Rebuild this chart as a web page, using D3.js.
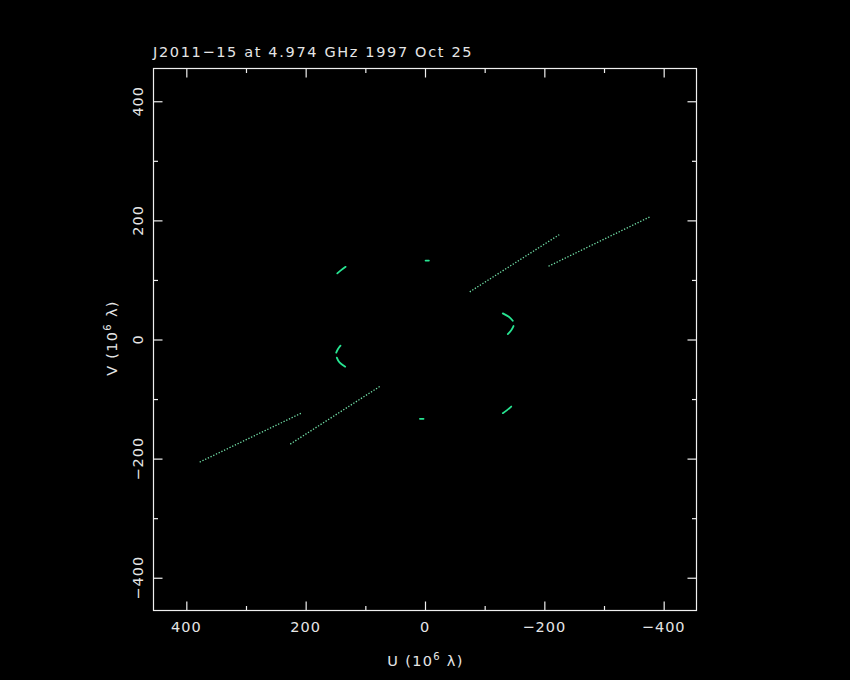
<!DOCTYPE html>
<html>
<head>
<meta charset="utf-8">
<script src="https://cdn.jsdelivr.net/npm/d3@7"></script>
<style>
  html, body { margin: 0; padding: 0; background: #000; }
  svg { display: block; }
  text { font-family: "DejaVu Sans", sans-serif; fill: #e6e6e6; }
</style>
</head>
<body>
<svg id="chart" width="850" height="680"></svg>
<script>
// ---- data (U, V in units of 10^6 lambda) ----
const titleText = "J2011\u221215 at 4.974 GHz 1997 Oct 25";
const majorTicks = [-400, -200, 0, 200, 400];
const minorTicks = [-300, -100, 100, 300];
const uDomain = [455, -455];   // U reversed
const vDomain = [-455, 455];

// long dotted uv tracks
const trackA  = [[-207, 123], [-377, 206]];
const trackA2 = [[208, -124], [378, -206]];
const trackB  = [[-75, 80], [-225, 176]];
const trackB2 = [[76, -79], [228, -177]];

// short arcs
const arcUL   = [[147, 111], [141.6, 115.6], [133, 122]];
const arcLR   = [[-130.4, -123.7], [-137, -119], [-144.5, -112.6]];
const arcL1   = [[141.6, -10.4], [145.8, -15.9], [148.8, -22.1]];
const arcL2   = [[147.8, -30.5], [143.3, -38.5], [133.7, -45.6]];
const arcR1   = [[-130.4, 43.9], [-140.5, 38.2], [-147.1, 31.5]];
const arcR2   = [[-148.3, 22.6], [-144.5, 15.5], [-138.8, 9.2]];
const dashTop = [[-1, 132.5], [-6.5, 132.5]];
const dashBot = [[2.5, -133.2], [8.5, -133.2]];

const dottedTracks = [trackA, trackA2, trackB, trackB2];
const solidArcs = [arcUL, arcLR, arcL1, arcL2, arcR1, arcR2, dashTop, dashBot];

(function () {
// ---- layout ----
const pL = 153.5, pR = 696.5, pT = 68.5, pB = 610.5;
const svg = d3.select("#chart");

const x = d3.scaleLinear().domain(uDomain).range([pL, pR]);
const y = d3.scaleLinear().domain(vDomain).range([pB, pT]);

const frameColor = "#f0f0f0";

svg.append("rect")
  .attr("x", pL).attr("y", pT)
  .attr("width", pR - pL).attr("height", pB - pT)
  .attr("fill", "none").attr("stroke", frameColor).attr("stroke-width", 1.2);

function styleAxis(g) {
  g.select(".domain").remove();
  g.selectAll(".tick line").attr("stroke", frameColor).attr("stroke-width", 1.2);
}

function ticks(vals, size) {
  svg.append("g").attr("transform", `translate(0,${pB})`)
    .call(d3.axisBottom(x).tickValues(vals).tickSize(-size).tickFormat(""))
    .call(styleAxis);
  svg.append("g").attr("transform", `translate(0,${pT})`)
    .call(d3.axisTop(x).tickValues(vals).tickSize(-size).tickFormat(""))
    .call(styleAxis);
  svg.append("g").attr("transform", `translate(${pL},0)`)
    .call(d3.axisLeft(y).tickValues(vals).tickSize(-size).tickFormat(""))
    .call(styleAxis);
  svg.append("g").attr("transform", `translate(${pR},0)`)
    .call(d3.axisRight(y).tickValues(vals).tickSize(-size).tickFormat(""))
    .call(styleAxis);
}
ticks(majorTicks, 9);
ticks(minorTicks, 4.5);

const fmt = v => (v < 0 ? "\u2212" + Math.abs(v) : String(v));
const fs = 14.5;

svg.append("g").selectAll("text").data(majorTicks).join("text")
  .attr("x", d => x(d)).attr("y", 632)
  .attr("text-anchor", "middle").attr("font-size", fs)
  .attr("letter-spacing", 1)
  .text(fmt);

svg.append("g").selectAll("text").data(majorTicks).join("text")
  .attr("transform", d => `translate(143,${y(d)}) rotate(-90)`)
  .attr("text-anchor", "middle").attr("font-size", fs)
  .attr("letter-spacing", 1)
  .text(fmt);

svg.append("text").attr("x", 153).attr("y", 56.5)
  .attr("font-size", fs).attr("letter-spacing", 1.65).text(titleText);

function axisTitle(sel, letter) {
  sel.append("tspan").text(letter + " (10");
  sel.append("tspan").attr("font-size", 10).attr("dy", -6).text("6");
  sel.append("tspan").attr("dy", 6).text(" \u03bb)");
}
svg.append("text").attr("x", 425.5).attr("y", 666)
  .attr("text-anchor", "middle").attr("font-size", fs)
  .attr("letter-spacing", 1.3)
  .call(axisTitle, "U");
svg.append("text").attr("transform", "translate(117,338) rotate(-90)")
  .attr("text-anchor", "middle").attr("font-size", fs)
  .attr("letter-spacing", 1.3)
  .call(axisTitle, "V");

const line = d3.line().x(d => x(d[0])).y(d => y(d[1]));
const curve = d3.line().x(d => x(d[0])).y(d => y(d[1])).curve(d3.curveCardinal);

svg.append("g").selectAll("path").data(dottedTracks).join("path")
  .attr("d", line)
  .attr("fill", "none")
  .attr("stroke", "#72e0a8")
  .attr("stroke-width", 1.3)
  .attr("stroke-dasharray", "1.3,1.7");

svg.append("g").selectAll("path").data(solidArcs).join("path")
  .attr("d", curve)
  .attr("fill", "none")
  .attr("stroke", "#27e592")
  .attr("stroke-width", 1.8)
  .attr("stroke-linecap", "round");
})();
</script>
</body>
</html>
